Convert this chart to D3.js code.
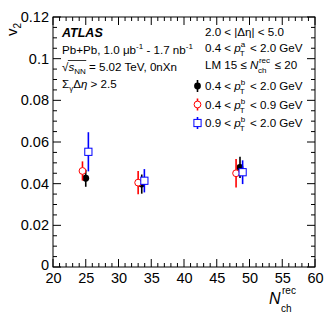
<!DOCTYPE html>
<html>
<head>
<meta charset="utf-8">
<script src="https://cdn.jsdelivr.net/npm/d3@7"></script>
<style>
  body { margin: 0; background: #fff; }
  svg { font-family: "Liberation Sans", Arial, sans-serif; }
</style>
</head>
<body>
<div id="chart"></div>
<script>
// values
const xDomain = [20, 60];
const yDomain = [0, 0.12];
const xTicks = [20, 25, 30, 35, 40, 45, 50, 55, 60];
const yTicks = [0, 0.02, 0.04, 0.06, 0.08, 0.1, 0.12];

const blackX = [25.0, 33.55, 48.55];
const blackY = [0.0426, 0.0398, 0.0478];
const blackErr = [0.0041, 0.0046, 0.0051];

const redX = [24.5, 33.0, 47.95];
const redY = [0.0461, 0.0405, 0.0450];
const redErr = [0.0046, 0.0056, 0.0068];

const blueX = [25.4, 33.95, 48.95];
const blueY = [0.0553, 0.0414, 0.0455];
const blueErr = [0.0094, 0.0056, 0.0057];

const width = 332, height = 319;
const padding = { top: 17, right: 17, bottom: 52, left: 53 };
const chartWidth = width - padding.left - padding.right;
const chartHeight = height - padding.top - padding.bottom;

const svg = d3.select('#chart').append('svg')
  .attr('width', width)
  .attr('height', height);

const chart = svg.append('g')
  .attr('transform', `translate(${padding.left},${padding.top})`);

const x = d3.scaleLinear().domain(xDomain).range([0, chartWidth]);
const y = d3.scaleLinear().domain(yDomain).range([chartHeight, 0]);

// frame
chart.append('rect')
  .attr('width', chartWidth).attr('height', chartHeight)
  .attr('fill', 'none').attr('stroke', '#000').attr('stroke-width', 1);

// ticks, ROOT style: inside, on all four sides
const xMinor = d3.range(xDomain[0], xDomain[1] + 0.001, 1);
const yMinor = d3.range(0, 0.1201, 0.005);

const tickG = chart.append('g').attr('stroke', '#000').attr('stroke-width', 1);
xMinor.forEach(v => {
  const len = Math.round(v) % 5 === 0 ? 8 : 4;
  tickG.append('line').attr('x1', x(v)).attr('x2', x(v)).attr('y1', chartHeight).attr('y2', chartHeight - len);
  tickG.append('line').attr('x1', x(v)).attr('x2', x(v)).attr('y1', 0).attr('y2', len);
});
yMinor.forEach((v, i) => {
  const len = i % 4 === 0 ? 8 : 4;
  tickG.append('line').attr('x1', 0).attr('x2', len).attr('y1', y(v)).attr('y2', y(v));
  tickG.append('line').attr('x1', chartWidth).attr('x2', chartWidth - len).attr('y1', y(v)).attr('y2', y(v));
});

// axes labels via d3 axes (ticks hidden, only text)
const xAxis = chart.append('g')
  .attr('transform', `translate(0,${chartHeight})`)
  .call(d3.axisBottom(x).tickValues(xTicks).tickSize(0).tickPadding(6).tickFormat(d3.format('d')));
const yAxis = chart.append('g')
  .call(d3.axisLeft(y).tickValues(yTicks).tickSize(0).tickPadding(4).tickFormat(d => d === 0 ? '0' : d3.format('')(+d.toFixed(2))));
[xAxis, yAxis].forEach(a => {
  a.select('.domain').remove();
  a.selectAll('text').attr('font-size', 14.5).attr('fill', '#000')
    .style('font-family', '"Liberation Sans", Arial, sans-serif');
});
yAxis.selectAll('text').filter(d => d === 0).attr('dy', '0.2em');

// axis titles
const yt = svg.append('text')
  .attr('transform', 'translate(17,36) rotate(-90)')
  .attr('font-size', 15).attr('text-anchor', 'start');
yt.append('tspan').text('v');
yt.append('tspan').attr('font-size', 10).attr('dy', 4).text('2');

const xt = svg.append('g').attr('transform', 'translate(315,304)');
xt.append('text').attr('x', -46).attr('y', 0).attr('font-size', 16).attr('font-style', 'italic').text('N');
xt.append('text').attr('x', -33).attr('y', -10).attr('font-size', 10).text('rec');
xt.append('text').attr('x', -34).attr('y', 8).attr('font-size', 10).text('ch');

// data
const series = [
  { xs: blackX, ys: blackY, es: blackErr, color: '#000', marker: 'fcircle' },
  { xs: redX, ys: redY, es: redErr, color: '#ff0000', marker: 'ocircle' },
  { xs: blueX, ys: blueY, es: blueErr, color: '#0000ff', marker: 'osquare' }
];

function drawMarker(g, marker, color) {
  if (marker === 'fcircle') {
    g.append('circle').attr('r', 3.4).attr('fill', color);
  } else if (marker === 'ocircle') {
    g.append('circle').attr('r', 3.4).attr('fill', '#fff').attr('stroke', color).attr('stroke-width', 1);
  } else {
    g.append('rect').attr('x', -3.6).attr('y', -3.6).attr('width', 7.2).attr('height', 7.2)
      .attr('fill', '#fff').attr('stroke', color).attr('stroke-width', 1);
  }
}

series.forEach(s => {
  const pts = s.xs.map((v, i) => ({ x: v, y: s.ys[i], e: s.es[i] }));
  const g = chart.append('g');
  g.selectAll('.err').data(pts).join('line')
    .attr('x1', d => x(d.x)).attr('x2', d => x(d.x))
    .attr('y1', d => y(d.y - d.e)).attr('y2', d => y(d.y + d.e))
    .attr('stroke', s.color).attr('stroke-width', 1.6);
  g.selectAll('.pt').data(pts).join('g')
    .attr('transform', d => `translate(${x(d.x)},${y(d.y)})`)
    .each(function() { drawMarker(d3.select(this), s.marker, s.color); });
});

// text block, left
const fs = 11.6;
svg.append('text').attr('x', 62).attr('y', 37).attr('font-size', 12.5)
  .attr('font-weight', 'bold').attr('font-style', 'italic').text('ATLAS');

const t1 = svg.append('text').attr('x', 62).attr('y', 54).attr('font-size', fs);
t1.append('tspan').text('Pb+Pb, 1.0 \u03BCb');
t1.append('tspan').attr('font-size', 8).attr('dy', -5).text('-1');
t1.append('tspan').attr('dy', 5).text(' - 1.7 nb');
t1.append('tspan').attr('font-size', 8).attr('dy', -5).text('-1');

const t2 = svg.append('text').attr('x', 62).attr('y', 71).attr('font-size', fs);
t2.append('tspan').text('\u221A');
t2.append('tspan').attr('font-style', 'italic').text('s');
t2.append('tspan').attr('font-size', 8).attr('dy', 2.5).text('NN');
t2.append('tspan').attr('dy', -2.5).text(' = 5.02 TeV, 0nXn');
// overline of the square root
const tn = t2.node();
const sx0 = tn.getStartPositionOfChar(1).x;
const sx1 = tn.getEndPositionOfChar(3).x;
svg.append('line').attr('x1', sx0 - 0.5).attr('x2', sx1 + 0.5).attr('y1', 60.5).attr('y2', 60.5)
  .attr('stroke', '#000').attr('stroke-width', 0.8);

const t3 = svg.append('text').attr('x', 62).attr('y', 88).attr('font-size', fs);
t3.append('tspan').text('\u03A3');
t3.append('tspan').attr('font-size', 8).attr('dy', 2.5).text('\u03B3');
t3.append('tspan').attr('dy', -2.5).text('\u0394');
t3.append('tspan').attr('font-style', 'italic').text('\u03B7');
t3.append('tspan').text(' > 2.5');

// text block, right
const rx = 205;
svg.append('text').attr('x', rx).attr('y', 36).attr('font-size', fs).text('2.0 < |\u0394\u03B7| < 5.0');

function ptLine(txt, yy, sup, before, after) {
  const t = svg.append('text').attr('x', txt).attr('y', yy).attr('font-size', fs);
  t.append('tspan').text(before);
  const node = t.node();
  t.append('tspan').attr('font-style', 'italic').text('p');
  const w = node.getComputedTextLength();
  svg.append('text').attr('x', txt + w).attr('y', yy - 5).attr('font-size', 8).text(sup);
  svg.append('text').attr('x', txt + w - 1).attr('y', yy + 4).attr('font-size', 8).text('T');
  t.append('tspan').attr('dx', 6).text(after);
}
ptLine(rx, 52, 'a', '0.4 < ', ' < 2.0 GeV');

const t4 = svg.append('text').attr('x', rx).attr('y', 69).attr('font-size', fs);
t4.append('tspan').text('LM 15 \u2264 ');
t4.append('tspan').attr('font-style', 'italic').text('N');
const w4 = t4.node().getComputedTextLength();
svg.append('text').attr('x', rx + w4 + 0.5).attr('y', 63).attr('font-size', 8).text('rec');
svg.append('text').attr('x', rx + w4 - 0.5).attr('y', 73).attr('font-size', 8).text('ch');
t4.append('tspan').attr('dx', 13).text(' \u2264 20');

// legend
const legendRows = ['0.4 < |2.0', '0.4 < |0.9', '0.9 < |2.0'];
const legendY = [86, 104.5, 123];
series.forEach((s, i) => {
  const [lo, hi] = legendRows[i].split('|');
  const g = svg.append('g').attr('transform', `translate(197.5,${legendY[i]})`);
  g.append('line').attr('y1', -6).attr('y2', 6).attr('stroke', s.color).attr('stroke-width', 1.6);
  drawMarker(g, s.marker, s.color);
  ptLine(rx, legendY[i] + 4, 'b', lo, ' < ' + hi + ' GeV');
});
</script>
</body>
</html>
